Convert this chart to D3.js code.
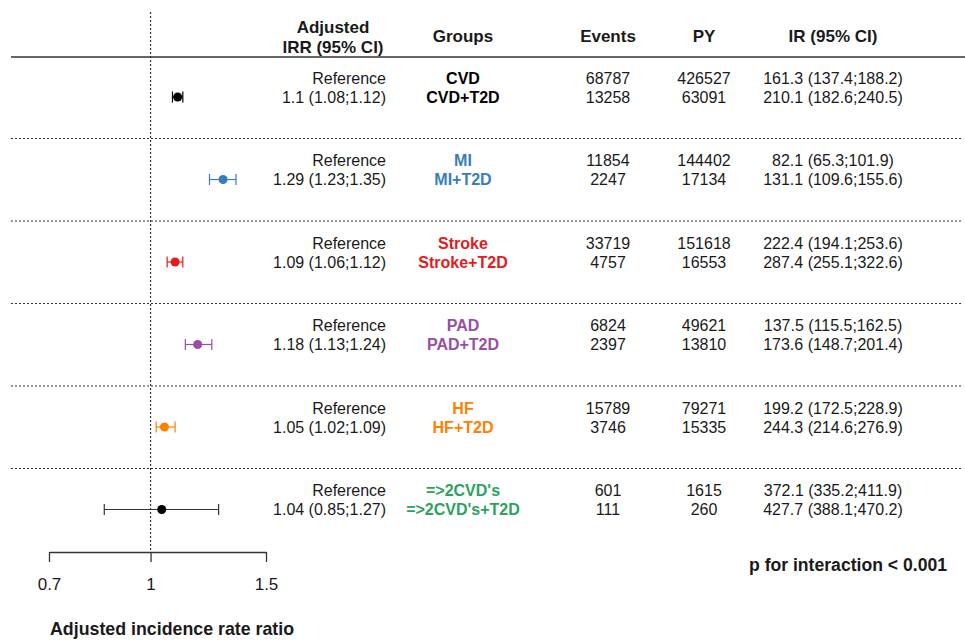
<!DOCTYPE html>
<html>
<head>
<meta charset="utf-8">
<script src="https://cdn.jsdelivr.net/npm/d3@7"></script>
<style>
  html, body { margin: 0; padding: 0; background: #fff; }
  svg { display: block; font-family: "Liberation Sans", Arial, Helvetica, sans-serif; }
</style>
</head>
<body>
<svg id="chart" width="965" height="641"></svg>
<script>
// Cardiovascular subgroups: adjusted IRR for T2D vs. no T2D
const groups = ["CVD", "MI", "Stroke", "PAD", "HF", "=>2CVD's"];
const groupColors = ["#000000", "#377EB8", "#E41A1C", "#984EA3", "#FF7F00", "#2CA25F"];
const markColors = ["#000000", "#377EB8", "#E41A1C", "#984EA3", "#FF7F00", "#000000"];

const irr = [1.1, 1.29, 1.09, 1.18, 1.05, 1.04];
const irrLower = [1.08, 1.23, 1.06, 1.13, 1.02, 0.85];
const irrUpper = [1.12, 1.35, 1.12, 1.24, 1.09, 1.27];

const eventsRef = [68787, 11854, 33719, 6824, 15789, 601];
const eventsT2D = [13258, 2247, 4757, 2397, 3746, 111];
const pyRef = [426527, 144402, 151618, 49621, 79271, 1615];
const pyT2D = [63091, 17134, 16553, 13810, 15335, 260];

const irRef = [161.3, 82.1, 222.4, 137.5, 199.2, 372.1];
const irRefLower = [137.4, 65.3, 194.1, 115.5, 172.5, 335.2];
const irRefUpper = [188.2, 101.9, 253.6, 162.5, 228.9, 411.9];
const irT2D = [210.1, 131.1, 287.4, 173.6, 244.3, 427.7];
const irT2DLower = [182.6, 109.6, 255.1, 148.7, 214.6, 388.1];
const irT2DUpper = [240.5, 155.6, 322.6, 201.4, 276.9, 470.2];

const axisTicks = [0.7, 1, 1.5];
const headers = ["Groups", "Events", "PY", "IR (95% CI)"];

const svg = d3.select("#chart");
const ink = "#1a1a1a";
const lineInk = "#333";

// Scales
const x = d3.scaleLog().domain([0.7, 1.5]).range([49, 266]);
const blockTop = d3.scaleLinear().domain([0, 1]).range([56, 138.5]);
const axisY = 552;

const cols = { irr: 386, group: 463, events: 608, py: 704, ir: 833 };

// Grid: header rule, block separators, reference line at IRR = 1
svg.append("line")
  .attr("x1", 11).attr("x2", 965)
  .attr("y1", blockTop(0) + 1).attr("y2", blockTop(0) + 1)
  .attr("stroke", lineInk).attr("stroke-width", 1.5);

svg.append("g").selectAll("line")
  .data(d3.range(1, groups.length))
  .join("line")
  .attr("x1", 11).attr("x2", 963)
  .attr("y1", d => blockTop(d)).attr("y2", d => blockTop(d))
  .attr("stroke", lineInk).attr("stroke-width", 1.2)
  .attr("stroke-dasharray", "2,2");

svg.append("line")
  .attr("x1", x(1)).attr("x2", x(1))
  .attr("y1", 12).attr("y2", axisY)
  .attr("stroke", lineInk).attr("stroke-width", 1.2)
  .attr("stroke-dasharray", "2,2");

// Column headers
const hdr = svg.append("g")
  .attr("font-weight", "bold").attr("font-size", 17)
  .attr("fill", ink).attr("text-anchor", "middle");
hdr.append("text").attr("x", 333).attr("y", 27).attr("dy", "0.35em").text("Adjusted");
hdr.append("text").attr("x", 333).attr("y", 47).attr("dy", "0.35em").text("IRR (95% CI)");
const hx = [cols.group, cols.events, cols.py, cols.ir];
hdr.selectAll("text.h")
  .data(headers)
  .join("text")
  .attr("class", "h")
  .attr("x", (d, i) => hx[i]).attr("y", 36).attr("dy", "0.35em")
  .text(d => d);

// One block per subgroup
const rows = groups.map((g, i) => ({
  i, g,
  irr: irr[i], lo: irrLower[i], hi: irrUpper[i],
  evR: eventsRef[i], evT: eventsT2D[i],
  pyR: pyRef[i], pyT: pyT2D[i],
  irR: `${irRef[i].toFixed(1)} (${irRefLower[i].toFixed(1)};${irRefUpper[i].toFixed(1)})`,
  irT: `${irT2D[i].toFixed(1)} (${irT2DLower[i].toFixed(1)};${irT2DUpper[i].toFixed(1)})`
}));

const block = svg.append("g").selectAll("g.block")
  .data(rows)
  .join("g")
  .attr("class", "block")
  .attr("transform", d => `translate(0,${blockTop(d.i)})`);

const r1 = 22, r2 = 41;

function cell(sel, xPos, yPos, anchor, textFn, opts = {}) {
  sel.append("text")
    .attr("x", xPos).attr("y", yPos).attr("dy", "0.35em")
    .attr("text-anchor", anchor)
    .attr("font-size", 16)
    .attr("font-weight", opts.bold ? "bold" : "normal")
    .attr("fill", opts.color || ink)
    .text(textFn);
}

cell(block, cols.irr, r1, "end", () => "Reference");
cell(block, cols.irr, r2, "end", d => `${d.irr} (${d.lo};${d.hi})`);
block.each(function (d) {
  const s = d3.select(this);
  cell(s, cols.group, r1, "middle", d.g, { bold: true, color: groupColors[d.i] });
  cell(s, cols.group, r2, "middle", d.g + "+T2D", { bold: true, color: groupColors[d.i] });
});
cell(block, cols.events, r1, "middle", d => d.evR);
cell(block, cols.events, r2, "middle", d => d.evT);
cell(block, cols.py, r1, "middle", d => d.pyR);
cell(block, cols.py, r2, "middle", d => d.pyT);
cell(block, cols.ir, r1, "middle", d => d.irR);
cell(block, cols.ir, r2, "middle", d => d.irT);

// Confidence intervals and point estimates
const ci = block.append("g").attr("class", "ci");
const capH = 5.5;
ci.append("line")
  .attr("x1", d => x(d.lo)).attr("x2", d => x(d.hi))
  .attr("y1", r2).attr("y2", r2)
  .attr("stroke", d => d.i === groups.length - 1 ? lineInk : markColors[d.i])
  .attr("stroke-width", 1.2);
["lo", "hi"].forEach(k => {
  ci.append("line")
    .attr("x1", d => x(d[k])).attr("x2", d => x(d[k]))
    .attr("y1", r2 - capH).attr("y2", r2 + capH)
    .attr("stroke", d => d.i === groups.length - 1 ? lineInk : markColors[d.i])
    .attr("stroke-width", 1.2);
});
ci.append("circle")
  .attr("cx", d => x(d.irr)).attr("cy", r2).attr("r", 4.5)
  .attr("fill", d => markColors[d.i]);

// Axis
const axis = d3.axisBottom(x)
  .tickValues(axisTicks)
  .tickFormat(d3.format("~g"))
  .tickSizeInner(10).tickSizeOuter(0)
  .tickPadding(16);
const ax = svg.append("g").attr("transform", `translate(0,${axisY})`).call(axis);
ax.select(".domain").attr("stroke", lineInk).attr("stroke-width", 1.3);
ax.selectAll(".tick line").attr("stroke", lineInk).attr("stroke-width", 1.3);
ax.selectAll(".tick text")
  .attr("font-size", 17).attr("fill", ink)
  .attr("font-family", "\"Liberation Sans\", Arial, sans-serif");

svg.append("text")
  .attr("x", 50).attr("y", 629).attr("dy", "0.35em")
  .attr("font-size", 17.8).attr("font-weight", "bold").attr("fill", ink)
  .text("Adjusted incidence rate ratio");

svg.append("text")
  .attr("x", 947).attr("y", 565).attr("dy", "0.35em")
  .attr("text-anchor", "end")
  .attr("font-size", 17.6).attr("font-weight", "bold").attr("fill", ink)
  .text("p for interaction < 0.001");
</script>
</body>
</html>
